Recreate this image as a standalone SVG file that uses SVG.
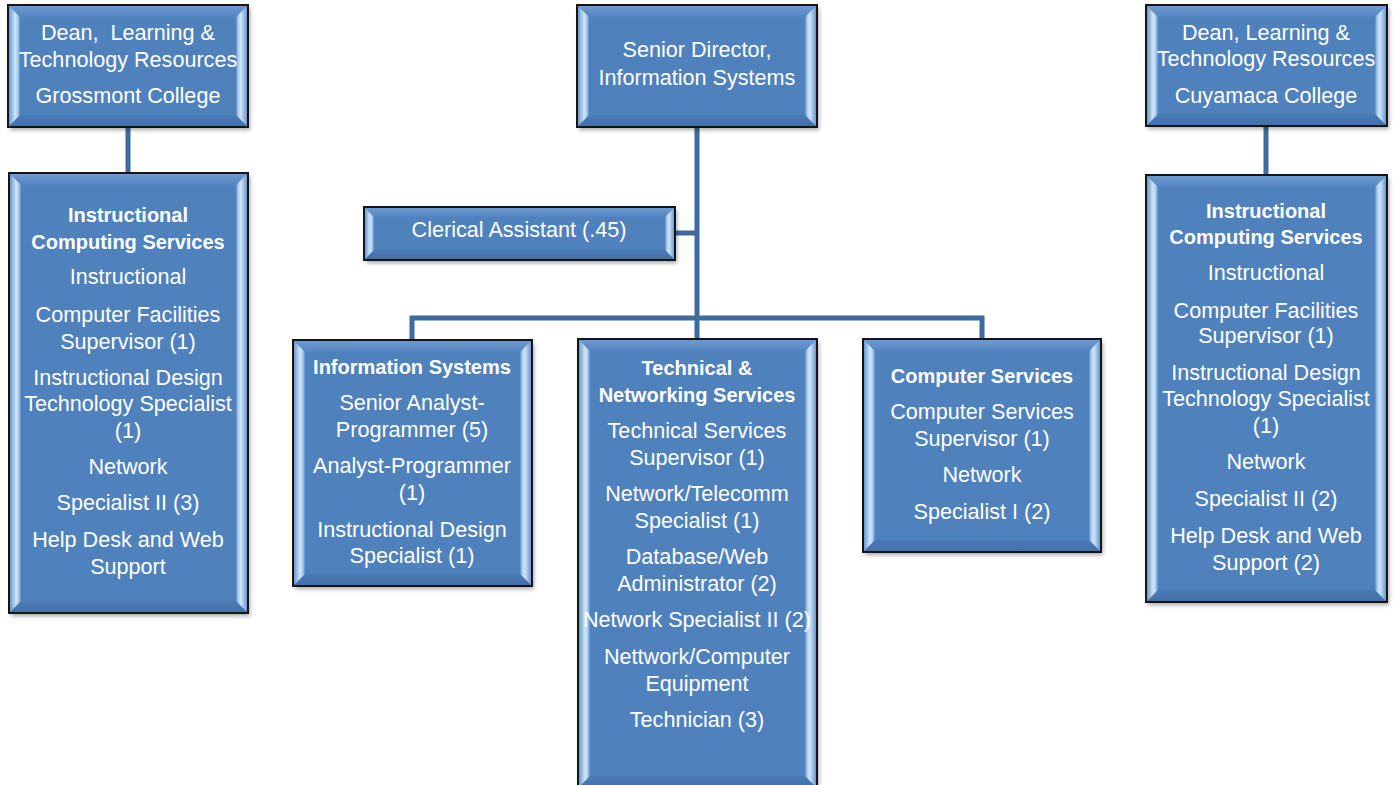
<svg xmlns="http://www.w3.org/2000/svg" width="1393" height="785" viewBox="0 0 1393 785">
<defs>
<linearGradient id="gl" x1="0" y1="0" x2="1" y2="0"><stop offset="0" stop-color="#5A8ACB"/><stop offset="0.6" stop-color="#CFE6FA"/><stop offset="0.82" stop-color="#A9CCEE"/><stop offset="1" stop-color="#5A8AC6"/></linearGradient>
<linearGradient id="gr" x1="1" y1="0" x2="0" y2="0"><stop offset="0" stop-color="#5A8ACB"/><stop offset="0.6" stop-color="#CFE6FA"/><stop offset="0.82" stop-color="#A9CCEE"/><stop offset="1" stop-color="#5A8AC6"/></linearGradient>
<linearGradient id="gt" x1="0" y1="0" x2="0" y2="1"><stop offset="0" stop-color="#6F9CD3"/><stop offset="1" stop-color="#5585C1"/></linearGradient>
<linearGradient id="gb" x1="0" y1="0" x2="0" y2="1"><stop offset="0" stop-color="#4B7AB5"/><stop offset="1" stop-color="#4270A8"/></linearGradient>
<filter id="sh" x="-5%" y="-5%" width="115%" height="115%"><feDropShadow dx="2" dy="3" stdDeviation="2" flood-color="#000" flood-opacity="0.35"/></filter>
</defs>
<style>
.bg{fill:#4F81BD;filter:url(#sh)}
.bt{fill:url(#gt)}
.bb{fill:url(#gb)}
.bl{fill:url(#gl)}
.br{fill:url(#gr)}
.bd{fill:none;stroke:#151515;stroke-width:2}
text{font-family:"Liberation Sans",Arial,sans-serif;font-size:21.6px;fill:#fff;text-anchor:middle}
.h{font-weight:bold;font-size:20px}
.cn{fill:none;stroke:#3D6B9E;stroke-width:5}
</style>
<rect width="1393" height="785" fill="#fff"/>
<g id="connectors">
<path class="cn" d="M128 127V173"/>
<path class="cn" d="M1266 126V175"/>
<path class="cn" d="M697 127V339"/>
<path class="cn" d="M675 233H697"/>
<path class="cn" d="M412 340V318H982V339"/>
</g>
<g id="dean-grossmont">
<rect class="bg" x="8" y="5" width="240" height="122"/>
<polygon class="bt" points="8,5 248,5 236,17 20,17"/>
<polygon class="bb" points="8,127 248,127 236,115 20,115"/>
<polygon class="bl" points="8,5 20,17 20,115 8,127"/>
<polygon class="br" points="248,5 236,17 236,115 248,127"/>
<rect class="bd" x="8" y="5" width="240" height="122"/>
<text x="128" y="40" xml:space="preserve">Dean,  Learning &amp;</text>
<text x="128" y="67">Technology Resources</text>
<text x="128" y="103">Grossmont College</text>
</g>
<g id="senior-director">
<rect class="bg" x="577" y="5" width="240" height="122"/>
<polygon class="bt" points="577,5 817,5 805,17 589,17"/>
<polygon class="bb" points="577,127 817,127 805,115 589,115"/>
<polygon class="bl" points="577,5 589,17 589,115 577,127"/>
<polygon class="br" points="817,5 805,17 805,115 817,127"/>
<rect class="bd" x="577" y="5" width="240" height="122"/>
<text x="697" y="57">Senior Director,</text>
<text x="697" y="85">Information Systems</text>
</g>
<g id="dean-cuyamaca">
<rect class="bg" x="1146" y="5" width="241" height="121"/>
<polygon class="bt" points="1146,5 1387,5 1375,17 1158,17"/>
<polygon class="bb" points="1146,126 1387,126 1375,114 1158,114"/>
<polygon class="bl" points="1146,5 1158,17 1158,114 1146,126"/>
<polygon class="br" points="1387,5 1375,17 1375,114 1387,126"/>
<rect class="bd" x="1146" y="5" width="241" height="121"/>
<text x="1266" y="40">Dean, Learning &amp;</text>
<text x="1266" y="66">Technology Resources</text>
<text x="1266" y="103">Cuyamaca College</text>
</g>
<g id="ics-grossmont">
<rect class="bg" x="9" y="173" width="239" height="440"/>
<polygon class="bt" points="9,173 248,173 236,185 21,185"/>
<polygon class="bb" points="9,613 248,613 236,601 21,601"/>
<polygon class="bl" points="9,173 21,185 21,601 9,613"/>
<polygon class="br" points="248,173 236,185 236,601 248,613"/>
<rect class="bd" x="9" y="173" width="239" height="440"/>
<text class="h" x="128" y="222">Instructional</text>
<text class="h" x="128" y="249">Computing Services</text>
<text x="128" y="284">Instructional</text>
<text x="128" y="322">Computer Facilities</text>
<text x="128" y="349">Supervisor (1)</text>
<text x="128" y="385">Instructional Design</text>
<text x="128" y="411">Technology Specialist</text>
<text x="128" y="438">(1)</text>
<text x="128" y="474">Network</text>
<text x="128" y="510">Specialist II (3)</text>
<text x="128" y="547">Help Desk and Web</text>
<text x="128" y="574">Support</text>
</g>
<g id="ics-cuyamaca">
<rect class="bg" x="1146" y="175" width="241" height="427"/>
<polygon class="bt" points="1146,175 1387,175 1375,187 1158,187"/>
<polygon class="bb" points="1146,602 1387,602 1375,590 1158,590"/>
<polygon class="bl" points="1146,175 1158,187 1158,590 1146,602"/>
<polygon class="br" points="1387,175 1375,187 1375,590 1387,602"/>
<rect class="bd" x="1146" y="175" width="241" height="427"/>
<text class="h" x="1266" y="218">Instructional</text>
<text class="h" x="1266" y="244">Computing Services</text>
<text x="1266" y="280">Instructional</text>
<text x="1266" y="318">Computer Facilities</text>
<text x="1266" y="343">Supervisor (1)</text>
<text x="1266" y="380">Instructional Design</text>
<text x="1266" y="406">Technology Specialist</text>
<text x="1266" y="433">(1)</text>
<text x="1266" y="469">Network</text>
<text x="1266" y="506">Specialist II (2)</text>
<text x="1266" y="543">Help Desk and Web</text>
<text x="1266" y="570">Support (2)</text>
</g>
<g id="clerical">
<rect class="bg" x="364" y="207" width="311" height="53"/>
<polygon class="bt" points="364,207 675,207 665,217 374,217"/>
<polygon class="bb" points="364,260 675,260 665,250 374,250"/>
<polygon class="bl" points="364,207 374,217 374,250 364,260"/>
<polygon class="br" points="675,207 665,217 665,250 675,260"/>
<rect class="bd" x="364" y="207" width="311" height="53"/>
<text x="519" y="237">Clerical Assistant (.45)</text>
</g>
<g id="information-systems">
<rect class="bg" x="293" y="340" width="239" height="246"/>
<polygon class="bt" points="293,340 532,340 520,352 305,352"/>
<polygon class="bb" points="293,586 532,586 520,574 305,574"/>
<polygon class="bl" points="293,340 305,352 305,574 293,586"/>
<polygon class="br" points="532,340 520,352 520,574 532,586"/>
<rect class="bd" x="293" y="340" width="239" height="246"/>
<text class="h" x="412" y="374">Information Systems</text>
<text x="412" y="410">Senior Analyst-</text>
<text x="412" y="437">Programmer (5)</text>
<text x="412" y="473">Analyst-Programmer</text>
<text x="412" y="500">(1)</text>
<text x="412" y="537">Instructional Design</text>
<text x="412" y="563">Specialist (1)</text>
</g>
<g id="technical-networking">
<rect class="bg" x="578" y="339" width="239" height="449"/>
<polygon class="bt" points="578,339 817,339 805,351 590,351"/>
<polygon class="bb" points="578,788 817,788 805,776 590,776"/>
<polygon class="bl" points="578,339 590,351 590,776 578,788"/>
<polygon class="br" points="817,339 805,351 805,776 817,788"/>
<rect class="bd" x="578" y="339" width="239" height="449"/>
<text class="h" x="697" y="375">Technical &amp;</text>
<text class="h" x="697" y="402">Networking Services</text>
<text x="697" y="438">Technical Services</text>
<text x="697" y="465">Supervisor (1)</text>
<text x="697" y="501">Network/Telecomm</text>
<text x="697" y="528">Specialist (1)</text>
<text x="697" y="564">Database/Web</text>
<text x="697" y="591">Administrator (2)</text>
<text x="697" y="627">Network Specialist II (2)</text>
<text x="697" y="664">Nettwork/Computer</text>
<text x="697" y="691">Equipment</text>
<text x="697" y="727">Technician (3)</text>
</g>
<g id="computer-services">
<rect class="bg" x="863" y="339" width="238" height="213"/>
<polygon class="bt" points="863,339 1101,339 1089,351 875,351"/>
<polygon class="bb" points="863,552 1101,552 1089,540 875,540"/>
<polygon class="bl" points="863,339 875,351 875,540 863,552"/>
<polygon class="br" points="1101,339 1089,351 1089,540 1101,552"/>
<rect class="bd" x="863" y="339" width="238" height="213"/>
<text class="h" x="982" y="383">Computer Services</text>
<text x="982" y="419">Computer Services</text>
<text x="982" y="446">Supervisor (1)</text>
<text x="982" y="482">Network</text>
<text x="982" y="519">Specialist I (2)</text>
</g>
</svg>
